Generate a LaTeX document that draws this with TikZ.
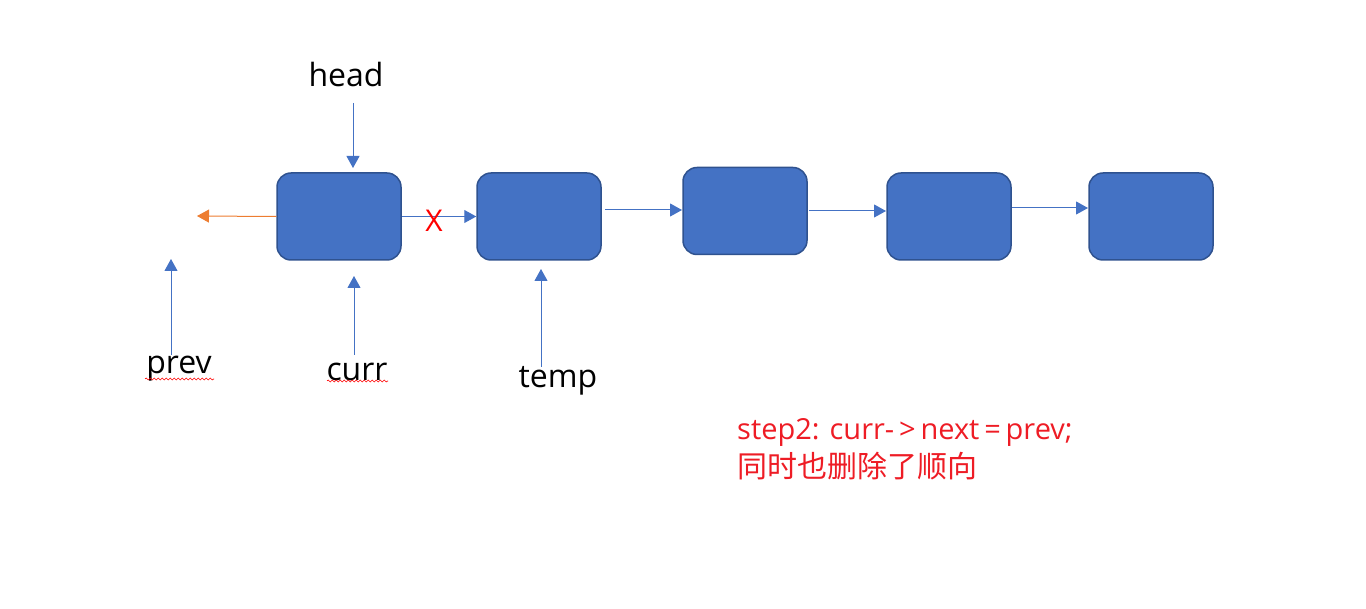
\documentclass[tikz,border=0pt]{standalone}
\usepackage{fontspec}
\setmainfont{Open Sans}
\newfontfamily\cjk{Noto Sans CJK SC}
\usetikzlibrary{arrows.meta,decorations.pathmorphing}
\definecolor{nodeblue}{HTML}{4472C4}
\definecolor{nodeedge}{HTML}{2F528F}
\definecolor{linkorange}{HTML}{ED7D31}
\definecolor{notered}{HTML}{EE1C25}
\tikzset{
  listnode/.style={draw=nodeedge, line width=1.5pt, fill=nodeblue, rounded corners=14pt, minimum width=124pt, minimum height=87pt, inner sep=0pt},
  link/.style={draw=nodeblue, line width=1pt, -{Triangle[length=12pt,width=13pt]}},
  backlink/.style={draw=linkorange, line width=1pt, -{Triangle[length=12pt,width=13pt]}},
  lbl/.style={font=\fontsize{32}{38}\selectfont, text=black, inner sep=0pt},
  squiggle/.style={draw=red, line width=0.6pt, decorate, decoration={snake, amplitude=1pt, segment length=4pt}}
}
\begin{document}
\begin{tikzpicture}[x=1pt,y=-1pt]
\useasboundingbox (0,0) rectangle (1366,609);
\node[listnode] (n1) at (339,216.5) {};
\node[listnode] (n2) at (539,216.5) {};
\node[listnode] (n3) at (745,211) {};
\node[listnode] (n4) at (949,216.5) {};
\node[listnode] (n5) at (1151,216.5) {};

\coordinate (prevend) at (197,216);
\draw[backlink] (n1.west) -- (prevend);
\draw[link] (n1.east) -- (n2.west);
\node[text=red, font=\fontsize{30}{36}\selectfont, inner sep=0pt] (x) at (434,221) {X};

\coordinate (s2) at (605,210);
\coordinate (e2) at (682,210);
\draw[link] (s2) -- (e2);
\coordinate (s3) at (809,211);
\coordinate (e3) at (886,211);
\draw[link] (s3) -- (e3);
\coordinate (s4) at (1012,208);
\coordinate (e4) at (1088,208);
\draw[link] (s4) -- (e4);

\node[lbl] (head) at (346,75) {head};
\node[lbl] (prev) at (179,369) {prev};
\node[lbl] (curr) at (357,372) {curr};
\node[lbl] (temp) at (558,381) {temp};

\coordinate (headtop) at (353,103);
\coordinate (headtip) at (353,168);
\draw[link] (headtop) -- (headtip);
\coordinate (prevtail) at (171,355);
\coordinate (prevtip) at (171,259);
\draw[link] (prevtail) -- (prevtip);
\coordinate (currtail) at (354,355);
\coordinate (currtip) at (354,276);
\draw[link] (currtail) -- (currtip);
\coordinate (temptail) at (541,367);
\coordinate (temptip) at (541,269);
\draw[link] (temptail) -- (temptip);

\coordinate (sq1a) at (145,379);
\coordinate (sq1b) at (214,379);
\draw[squiggle] (sq1a) -- (sq1b);
\coordinate (sq2a) at (327,381);
\coordinate (sq2b) at (388,381);
\draw[squiggle] (sq2a) -- (sq2b);

\node[anchor=north west, inner sep=0pt, text=notered, align=left, font=\fontsize{29}{38}\selectfont] (note) at (737,418) {step2: curr-\,>\,next\,=\,prev;\\{\cjk\fontsize{30}{38}\selectfont 同时也删除了顺向}};
\end{tikzpicture}
\end{document}
